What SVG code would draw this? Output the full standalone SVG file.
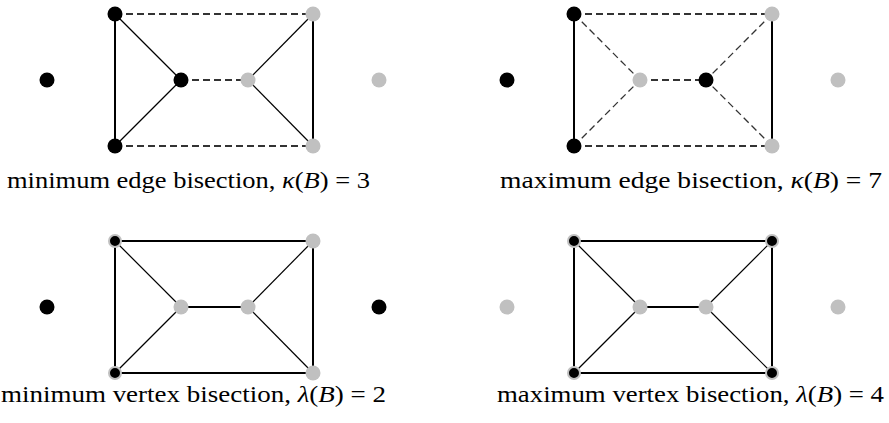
<svg xmlns="http://www.w3.org/2000/svg" width="889" height="423" viewBox="0 0 889 423">
<style>
.thick{stroke:#000;stroke-width:2;fill:none}
.thin{stroke:#000;stroke-width:1.2;fill:none}
.thickd{stroke:#333;stroke-width:1.8;stroke-dasharray:7 4;fill:none}
.thind{stroke:#333;stroke-width:1.3;stroke-dasharray:7 4;fill:none}
.b{fill:#000}
.g{fill:#c0c0c0}
.ring{fill:#000;stroke:#c0c0c0;stroke-width:2}
.lbl{font-family:"Liberation Serif","Times New Roman",serif;font-size:23px;fill:#000}
.it{font-style:italic}
</style>
<defs>
<circle id="nb" r="7.5" class="b"/>
<circle id="ng" r="7.5" class="g"/>
<circle id="nr" r="6" class="ring"/>
</defs>

<g id="connectors">
  <g id="e-tl">
    <line class="thickd" x1="115" y1="14" x2="313" y2="14"/>
    <line class="thickd" x1="115" y1="146" x2="313" y2="146"/>
    <line class="thickd" x1="181" y1="80" x2="248" y2="80"/>
    <line class="thick" x1="115" y1="14" x2="115" y2="146"/>
    <line class="thick" x1="313" y1="14" x2="313" y2="146"/>
    <line class="thin" x1="115" y1="14" x2="181" y2="80"/>
    <line class="thin" x1="115" y1="146" x2="181" y2="80"/>
    <line class="thin" x1="313" y1="14" x2="248" y2="80"/>
    <line class="thin" x1="313" y1="146" x2="248" y2="80"/>
  </g>
  <g id="e-tr">
    <line class="thickd" x1="574" y1="14" x2="772" y2="14"/>
    <line class="thickd" x1="574" y1="146" x2="772" y2="146"/>
    <line class="thickd" x1="640" y1="80" x2="706" y2="80"/>
    <line class="thick" x1="574" y1="14" x2="574" y2="146"/>
    <line class="thick" x1="772" y1="14" x2="772" y2="146"/>
    <line class="thind" x1="574" y1="14" x2="640" y2="80"/>
    <line class="thind" x1="574" y1="146" x2="640" y2="80"/>
    <line class="thind" x1="772" y1="14" x2="706" y2="80"/>
    <line class="thind" x1="772" y1="146" x2="706" y2="80"/>
  </g>
  <g id="e-bl">
    <line class="thick" x1="115" y1="241" x2="313" y2="241"/>
    <line class="thick" x1="115" y1="373" x2="313" y2="373"/>
    <line class="thick" x1="181" y1="307" x2="248" y2="307"/>
    <line class="thick" x1="115" y1="241" x2="115" y2="373"/>
    <line class="thick" x1="313" y1="241" x2="313" y2="373"/>
    <line class="thin" x1="115" y1="241" x2="181" y2="307"/>
    <line class="thin" x1="115" y1="373" x2="181" y2="307"/>
    <line class="thin" x1="313" y1="241" x2="248" y2="307"/>
    <line class="thin" x1="313" y1="373" x2="248" y2="307"/>
  </g>
  <g id="e-br">
    <line class="thick" x1="574" y1="241" x2="772" y2="241"/>
    <line class="thick" x1="574" y1="373" x2="772" y2="373"/>
    <line class="thick" x1="640" y1="307" x2="706" y2="307"/>
    <line class="thick" x1="574" y1="241" x2="574" y2="373"/>
    <line class="thick" x1="772" y1="241" x2="772" y2="373"/>
    <line class="thin" x1="574" y1="241" x2="640" y2="307"/>
    <line class="thin" x1="574" y1="373" x2="640" y2="307"/>
    <line class="thin" x1="772" y1="241" x2="706" y2="307"/>
    <line class="thin" x1="772" y1="373" x2="706" y2="307"/>
  </g>
</g>

<g id="tl-iso-l"><use href="#nb" x="47" y="80"/></g>
<g id="tl-a"><use href="#nb" x="115" y="14"/></g>
<g id="tl-b"><use href="#ng" x="313" y="14"/></g>
<g id="tl-c"><use href="#nb" x="181" y="80"/></g>
<g id="tl-d"><use href="#ng" x="248" y="80"/></g>
<g id="tl-e"><use href="#nb" x="115" y="146"/></g>
<g id="tl-f"><use href="#ng" x="313" y="146"/></g>
<g id="tl-iso-r"><use href="#ng" x="379" y="80"/></g>

<g id="tr-iso-l"><use href="#nb" x="507" y="80"/></g>
<g id="tr-a"><use href="#nb" x="574" y="14"/></g>
<g id="tr-b"><use href="#ng" x="772" y="14"/></g>
<g id="tr-c"><use href="#ng" x="640" y="80"/></g>
<g id="tr-d"><use href="#nb" x="706" y="80"/></g>
<g id="tr-e"><use href="#nb" x="574" y="146"/></g>
<g id="tr-f"><use href="#ng" x="772" y="146"/></g>
<g id="tr-iso-r"><use href="#ng" x="838" y="80"/></g>

<g id="bl-iso-l"><use href="#nb" x="47" y="307"/></g>
<g id="bl-a"><use href="#nr" x="115" y="241"/></g>
<g id="bl-b"><use href="#ng" x="313" y="241"/></g>
<g id="bl-c"><use href="#ng" x="181" y="307"/></g>
<g id="bl-d"><use href="#ng" x="248" y="307"/></g>
<g id="bl-e"><use href="#nr" x="115" y="373"/></g>
<g id="bl-f"><use href="#ng" x="313" y="373"/></g>
<g id="bl-iso-r"><use href="#nb" x="379" y="307"/></g>

<g id="br-iso-l"><use href="#ng" x="507" y="307"/></g>
<g id="br-a"><use href="#nr" x="574" y="241"/></g>
<g id="br-b"><use href="#nr" x="772" y="241"/></g>
<g id="br-c"><use href="#ng" x="640" y="307"/></g>
<g id="br-d"><use href="#ng" x="706" y="307"/></g>
<g id="br-e"><use href="#nr" x="574" y="373"/></g>
<g id="br-f"><use href="#nr" x="772" y="373"/></g>
<g id="br-iso-r"><use href="#ng" x="838" y="307"/></g>

<g id="labels">
  <text class="lbl" x="7" y="188" textLength="363" lengthAdjust="spacingAndGlyphs">minimum edge bisection, <tspan class="it">κ</tspan>(<tspan class="it">B</tspan>) = 3</text>
  <text class="lbl" x="500" y="188" textLength="382" lengthAdjust="spacingAndGlyphs">maximum edge bisection, <tspan class="it">κ</tspan>(<tspan class="it">B</tspan>) = 7</text>
  <text class="lbl" x="1" y="402" textLength="385" lengthAdjust="spacingAndGlyphs">minimum vertex bisection, <tspan class="it">λ</tspan>(<tspan class="it">B</tspan>) = 2</text>
  <text class="lbl" x="497" y="402" textLength="387" lengthAdjust="spacingAndGlyphs">maximum vertex bisection, <tspan class="it">λ</tspan>(<tspan class="it">B</tspan>) = 4</text>
</g>
</svg>
